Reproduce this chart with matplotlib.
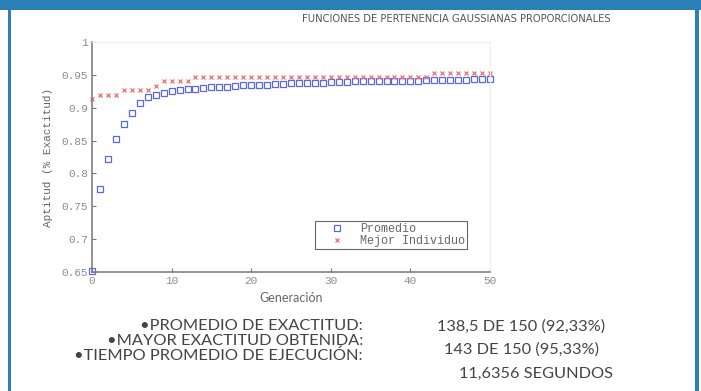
import matplotlib
matplotlib.use('Agg')
import matplotlib.pyplot as plt
from matplotlib.patches import Rectangle

# generaciones y aptitud (fraccion de aciertos sobre 150 muestras)
generaciones = list(range(0, 51))
promedio = [0.652, 0.777, 0.822, 0.852, 0.875, 0.892, 0.907, 0.916, 0.920, 0.923,
            0.925, 0.927, 0.928, 0.929, 0.930, 0.931, 0.932, 0.932, 0.933, 0.934,
            0.934, 0.935, 0.935, 0.936, 0.936, 0.937, 0.937, 0.938, 0.938, 0.938,
            0.939, 0.939, 0.939, 0.940, 0.940, 0.940, 0.940, 0.941, 0.941, 0.941,
            0.941, 0.941, 0.942, 0.942, 0.942, 0.942, 0.942, 0.942, 0.943, 0.943,
            0.943]
mejor = [0.9133, 0.9200, 0.9200, 0.9200, 0.9267, 0.9267, 0.9267, 0.9267, 0.9333, 0.9400,
         0.9400, 0.9400, 0.9400, 0.9467, 0.9467, 0.9467, 0.9467, 0.9467, 0.9467, 0.9467,
         0.9467, 0.9467, 0.9467, 0.9467, 0.9467, 0.9467, 0.9467, 0.9467, 0.9467, 0.9467,
         0.9467, 0.9467, 0.9467, 0.9467, 0.9467, 0.9467, 0.9467, 0.9467, 0.9467, 0.9467,
         0.9467, 0.9467, 0.9467, 0.9533, 0.9533, 0.9533, 0.9533, 0.9533, 0.9533, 0.9533,
         0.9533]

y_ticks = [0.65, 0.7, 0.75, 0.8, 0.85, 0.9, 0.95, 1.0]
y_ticklabels = ['0.65', '0.7', '0.75', '0.8', '0.85', '0.9', '0.95', '1']
x_ticks = [0, 10, 20, 30, 40, 50]

titulo = 'FUNCIONES DE PERTENENCIA GAUSSIANAS PROPORCIONALES'
etiquetas = ['\u2022PROMEDIO DE EXACTITUD:',
             '\u2022MAYOR EXACTITUD OBTENIDA:',
             '\u2022TIEMPO PROMEDIO DE EJECUCI\u00d3N:']
valores = ['138,5 DE 150 (92,33%)', '143 DE 150 (95,33%)', '11,6356 SEGUNDOS']

azul_marco = '#2a7fb6'
mono = 'Liberation Mono'
texto = 'Lato'


def main():
    fig = plt.figure(figsize=(7.01, 3.91), dpi=100)
    fig.patch.set_facecolor('white')

    # marco de la diapositiva
    fig.add_artist(Rectangle((0, 1 - 10 / 391), 1, 10 / 391, transform=fig.transFigure,
                             color=azul_marco, lw=0))
    fig.add_artist(Rectangle((8 / 701, 0), 3 / 701, 1, transform=fig.transFigure,
                             color=azul_marco, lw=0))
    fig.add_artist(Rectangle((695 / 701, 0), 4 / 701, 1, transform=fig.transFigure,
                             color=azul_marco, lw=0))

    ax = fig.add_axes([92 / 701, 1 - 272 / 391, 398 / 701, 230 / 391])
    ax.plot(generaciones, promedio, linestyle='none', marker='s', markersize=4.4,
            markerfacecolor='none', markeredgecolor='#5a68e4', markeredgewidth=0.9,
            label='Promedio', clip_on=False)
    ax.plot(generaciones, mejor, linestyle='none', marker='x', markersize=3.3,
            color='#ea7070', markeredgewidth=0.9, label='Mejor Individuo', clip_on=False)

    ax.set_xlim(0, 50)
    ax.set_ylim(0.65, 1.0)
    ax.set_xticks(x_ticks)
    ax.set_xticklabels([str(t) for t in x_ticks], fontsize=8, fontfamily=mono, color='#8c8c8c')
    ax.set_yticks(y_ticks)
    ax.set_yticklabels(y_ticklabels, fontsize=8, fontfamily=mono, color='#8c8c8c')
    ax.tick_params(direction='in', length=3, width=0.8, color='#777777', pad=3)

    for s in ['left', 'bottom']:
        ax.spines[s].set_color('#808080')
        ax.spines[s].set_linewidth(1.2)
    for s in ['top', 'right']:
        ax.spines[s].set_color('#eeeeee')
        ax.spines[s].set_linewidth(0.8)

    ax.set_ylabel('Aptitud (% Exactitud)', fontsize=8, fontfamily=mono, color='#666666',
                  labelpad=6)
    ax.set_xlabel('Generaci\u00f3n', fontsize=9, fontfamily=texto, color='#666666',
                  labelpad=4)

    leg = ax.legend(loc='lower left', bbox_to_anchor=(0.56, 0.1), borderaxespad=0,
                    fancybox=False, framealpha=1, edgecolor='#666666', borderpad=0.15,
                    handletextpad=0.15, handlelength=3.5, labelspacing=0.0,
                    prop={'family': mono, 'size': 8.5})
    leg.get_frame().set_linewidth(0.8)
    for t in leg.get_texts():
        t.set_color('#666666')

    fig.text(456 / 701, 1 - 19 / 391, titulo, fontsize=7.2, fontfamily='DejaVu Sans',
             color='#555555', ha='center', va='center')

    # resumen de resultados bajo la grafica
    y_etq = [326, 341, 356]
    for txt, y in zip(etiquetas, y_etq):
        fig.text(363 / 701, 1 - y / 391, txt, fontsize=11.8, fontfamily=texto,
                 color='#444444', ha='right', va='center')
    y_val = [327, 350, 374]
    x_val = [437, 444, 459]
    for txt, x, y in zip(valores, x_val, y_val):
        fig.text(x / 701, 1 - y / 391, txt, fontsize=11.8, fontfamily=texto,
                 color='#444444', ha='left', va='center')

    plt.savefig('out.png', dpi=100)


if __name__ == '__main__':
    main()
